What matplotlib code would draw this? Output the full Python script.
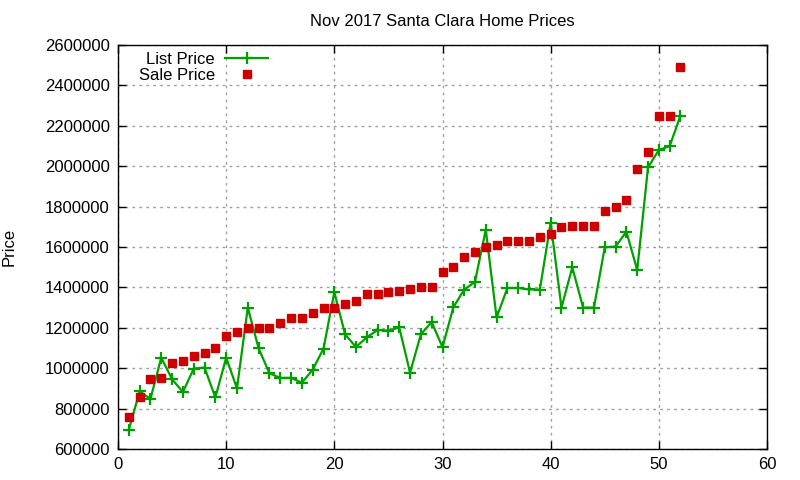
import numpy as np
import matplotlib.pyplot as plt

plt.rcParams['font.family'] = ['Liberation Sans', 'DejaVu Sans']

# index of each listing (1..52)
homes = list(range(1, 53))

list_price = [695000, 885000, 848000, 1052000, 945000, 882000, 998000, 1003000, 855000, 1052000,
              900000, 1300000, 1098000, 975000, 952000, 952000, 928000, 993000, 1097000, 1376000,
              1167000, 1105000, 1153000, 1189000, 1186000, 1202000, 978000, 1168000, 1228000, 1104000,
              1301000, 1389000, 1427000, 1686000, 1251000, 1397000, 1397000, 1390000, 1389000, 1721000,
              1300000, 1499000, 1300000, 1300000, 1598000, 1602000, 1676000, 1486000, 1994000, 2080000,
              2099000, 2250000]

sale_price = [756000, 855000, 948000, 952000, 1026000, 1038000, 1061000, 1076000, 1101000, 1159000,
              1179000, 1200000, 1200000, 1200000, 1225000, 1250000, 1250000, 1273000, 1300000, 1300000,
              1318000, 1334000, 1367000, 1367000, 1377000, 1383000, 1394000, 1401000, 1401000, 1476000,
              1501000, 1550000, 1577000, 1601000, 1611000, 1631000, 1631000, 1631000, 1651000, 1666000,
              1700000, 1705000, 1705000, 1705000, 1780000, 1800000, 1835000, 1984000, 2071000, 2250000,
              2250000, 2489000]

xticks = np.arange(0, 61, 10)
yticks = np.arange(600000, 2600001, 200000)

fig = plt.figure(figsize=(8, 4.8), dpi=100)
ax = fig.add_axes([0.1475, 0.0646, 0.81125, 0.8417])

ax.plot(homes, list_price, color='#00a000', lw=1.6, marker='+', ms=9, mew=1.6,
        label='List Price')
ax.plot(homes, sale_price, ls='none', color='#cc0000', marker='s', ms=6,
        label='Sale Price')

ax.set_xlim(0, 60)
ax.set_ylim(600000, 2600000)
ax.set_xticks(xticks)
ax.set_yticks(yticks)
ax.set_yticklabels([str(v) for v in yticks])
ax.tick_params(direction='in', length=6, width=1, top=True, right=True,
               labelsize=12, pad=6)
for s in ax.spines.values():
    s.set_linewidth(1)
ax.grid(True, color='#a0a0a0', ls=(0, (2, 3)), lw=1)

ax.set_title('Nov 2017 Santa Clara Home Prices', fontsize=12, pad=14)
ax.set_ylabel('Price', fontsize=12, labelpad=20)

leg = ax.legend(loc='upper left', frameon=False, markerfirst=False, fontsize=12,
                handlelength=2.6, borderaxespad=0.0, bbox_to_anchor=(0.022, 1.0),
                labelspacing=0.1, handletextpad=0.6)
for t in leg.get_texts():
    t.set_ha('right')

fig.savefig('out.png', dpi=100)
